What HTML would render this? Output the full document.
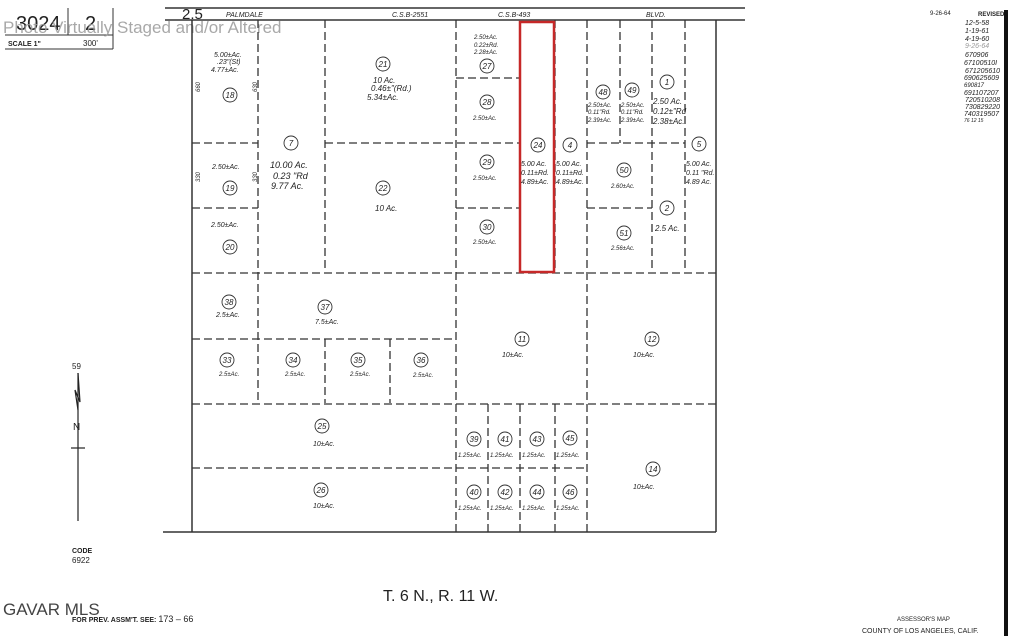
<!DOCTYPE html>
<html><head><meta charset="utf-8"><style>
html,body{margin:0;padding:0;background:#fff;}
svg{display:block;}
text{font-family:"Liberation Sans",sans-serif;fill:#222;}
.it{font-style:italic;font-size:7px;}
.s{font-size:6px;font-style:italic;}
.n{font-size:8px;font-style:italic;text-anchor:middle;}
.m{text-anchor:middle;}
</style></head><body>
<svg width="1024" height="636" viewBox="0 0 1024 636" xmlns="http://www.w3.org/2000/svg">
<rect width="1024" height="636" fill="#fff"/>
<g stroke="#333" stroke-width="1" fill="none">
<line x1="68" y1="8" x2="68" y2="35"/><line x1="113" y1="8" x2="113" y2="49"/>
<line x1="5" y1="35" x2="113" y2="35"/><line x1="5" y1="49" x2="113" y2="49"/>
</g>
<text x="16" y="30" font-size="20" fill="#222">3024</text>
<text x="85" y="30" font-size="20">2</text>
<text x="8" y="46" font-size="7" font-weight="bold">SCALE 1"</text>
<text x="83" y="46" font-size="8">300'</text>
<text x="3" y="33" font-size="17" style="fill:#9a9a9a" opacity="0.85">Photo Virtually Staged and/or Altered</text>
<g stroke="#333" stroke-width="1.5">
<line x1="165" y1="8" x2="745" y2="8"/>
<line x1="165" y1="20" x2="745" y2="20"/>
<line x1="192" y1="20" x2="192" y2="532"/>
<line x1="716" y1="20" x2="716" y2="532"/>
<line x1="163" y1="532" x2="716" y2="532"/>
</g>
<text x="182" y="19" font-size="15">2.5</text>
<text x="226" y="17" class="it" font-size="8">PALMDALE</text>
<text x="392" y="17" class="it" font-size="8">C.S.B-2551</text>
<text x="498" y="17" class="it" font-size="8">C.S.B-493</text>
<text x="646" y="17" class="it" font-size="8">BLVD.</text>
<g stroke="#333" stroke-width="1.3" stroke-dasharray="8,4" fill="none">
<line x1="258" y1="20" x2="258" y2="403"/>
<line x1="325" y1="20" x2="325" y2="272"/>
<line x1="456" y1="20" x2="456" y2="532"/>
<line x1="587" y1="20" x2="587" y2="532"/>
<line x1="620" y1="20" x2="620" y2="143"/>
<line x1="652" y1="20" x2="652" y2="272"/>
<line x1="685" y1="20" x2="685" y2="272"/>
<line x1="555" y1="20" x2="555" y2="272"/>
<line x1="192" y1="143" x2="258" y2="143"/>
<line x1="325" y1="143" x2="520" y2="143"/>
<line x1="587" y1="143" x2="685" y2="143"/>
<line x1="192" y1="208" x2="258" y2="208"/>
<line x1="456" y1="208" x2="520" y2="208"/>
<line x1="587" y1="208" x2="652" y2="208"/>
<line x1="456" y1="78" x2="520" y2="78"/>
<line x1="192" y1="273" x2="716" y2="273"/>
<line x1="192" y1="339" x2="456" y2="339"/>
<line x1="325" y1="339" x2="325" y2="403"/>
<line x1="390" y1="339" x2="390" y2="403"/>
<line x1="192" y1="404" x2="716" y2="404"/>
<line x1="192" y1="468" x2="587" y2="468"/>
<line x1="488" y1="404" x2="488" y2="532"/>
<line x1="520" y1="404" x2="520" y2="532"/>
<line x1="555" y1="404" x2="555" y2="532"/>
</g>
<rect x="520" y="22" width="34" height="250" fill="none" stroke="#c62828" stroke-width="2.5"/>
<g fill="none" stroke="#333" stroke-width="0.9">
<circle cx="230" cy="95" r="7"/><circle cx="291" cy="143" r="7"/><circle cx="230" cy="188" r="7"/>
<circle cx="230" cy="247" r="7"/><circle cx="383" cy="64" r="7"/><circle cx="383" cy="188" r="7"/>
<circle cx="487" cy="66" r="7"/><circle cx="487" cy="102" r="7"/><circle cx="487" cy="162" r="7"/>
<circle cx="487" cy="227" r="7"/><circle cx="538" cy="145" r="7"/><circle cx="570" cy="145" r="7"/>
<circle cx="603" cy="92" r="7"/><circle cx="632" cy="90" r="7"/><circle cx="667" cy="82" r="7"/>
<circle cx="699" cy="144" r="7"/><circle cx="624" cy="170" r="7"/><circle cx="667" cy="208" r="7"/>
<circle cx="624" cy="233" r="7"/><circle cx="229" cy="302" r="7"/><circle cx="325" cy="307" r="7"/>
<circle cx="227" cy="360" r="7"/><circle cx="293" cy="360" r="7"/><circle cx="358" cy="360" r="7"/>
<circle cx="421" cy="360" r="7"/><circle cx="522" cy="339" r="7"/><circle cx="652" cy="339" r="7"/>
<circle cx="322" cy="426" r="7"/><circle cx="321" cy="490" r="7"/><circle cx="653" cy="469" r="7"/>
<circle cx="474" cy="439" r="7"/><circle cx="505" cy="439" r="7"/><circle cx="537" cy="439" r="7"/><circle cx="570" cy="438" r="7"/>
<circle cx="474" cy="492" r="7"/><circle cx="505" cy="492" r="7"/><circle cx="537" cy="492" r="7"/><circle cx="570" cy="492" r="7"/>
</g>
<g class="n">
<text x="230" y="98" class="n">18</text><text x="291" y="146" class="n">7</text><text x="230" y="191" class="n">19</text>
<text x="230" y="250" class="n">20</text><text x="383" y="67" class="n">21</text><text x="383" y="191" class="n">22</text>
<text x="487" y="69" class="n">27</text><text x="487" y="105" class="n">28</text><text x="487" y="165" class="n">29</text>
<text x="487" y="230" class="n">30</text><text x="538" y="148" class="n">24</text><text x="570" y="148" class="n">4</text>
<text x="603" y="95" class="n">48</text><text x="632" y="93" class="n">49</text><text x="667" y="85" class="n">1</text>
<text x="699" y="147" class="n">5</text><text x="624" y="173" class="n">50</text><text x="667" y="211" class="n">2</text>
<text x="624" y="236" class="n">51</text><text x="229" y="305" class="n">38</text><text x="325" y="310" class="n">37</text>
<text x="227" y="363" class="n">33</text><text x="293" y="363" class="n">34</text><text x="358" y="363" class="n">35</text>
<text x="421" y="363" class="n">36</text><text x="522" y="342" class="n">11</text><text x="652" y="342" class="n">12</text>
<text x="322" y="429" class="n">25</text><text x="321" y="493" class="n">26</text><text x="653" y="472" class="n">14</text>
<text x="474" y="442" class="n">39</text><text x="505" y="442" class="n">41</text><text x="537" y="442" class="n">43</text><text x="570" y="441" class="n">45</text>
<text x="474" y="495" class="n">40</text><text x="505" y="495" class="n">42</text><text x="537" y="495" class="n">44</text><text x="570" y="495" class="n">46</text>
</g>
<g class="it">
<text x="214" y="57">5.00±Ac.</text><text x="217" y="64">.23"(St)</text><text x="211" y="72">4.77±Ac.</text>
<text x="270" y="168" font-size="9">10.00 Ac.</text><text x="273" y="179" font-size="9">0.23 "Rd</text><text x="271" y="189" font-size="9">9.77 Ac.</text>
<text x="212" y="169">2.50±Ac.</text><text x="211" y="227">2.50±Ac.</text>
<text x="373" y="83" font-size="8">10 Ac.</text><text x="371" y="91" font-size="8">0.46±"(Rd.)</text><text x="367" y="100" font-size="8">5.34±Ac.</text>
<text x="375" y="211" font-size="8">10 Ac.</text>
<text x="474" y="39" class="s">2.50±Ac.</text><text x="474" y="47" class="s">0.22±Rd.</text><text x="474" y="54" class="s">2.28±Ac.</text>
<text x="473" y="120" class="s">2.50±Ac.</text><text x="473" y="180" class="s">2.50±Ac.</text><text x="473" y="244" class="s">2.50±Ac.</text>
<text x="521" y="166">5.00 Ac.</text><text x="521" y="175">0.11±Rd.</text><text x="521" y="184">4.89±Ac.</text>
<text x="556" y="166">5.00 Ac.</text><text x="556" y="175">0.11±Rd.</text><text x="556" y="184">4.89±Ac.</text>
<text x="588" y="107" class="s">2.50±Ac.</text><text x="588" y="114" class="s">0.11"Rd.</text><text x="588" y="122" class="s">2.39±Ac.</text>
<text x="621" y="107" class="s">2.50±Ac.</text><text x="621" y="114" class="s">0.11"Rd.</text><text x="621" y="122" class="s">2.39±Ac.</text>
<text x="653" y="104" font-size="8">2.50 Ac.</text><text x="653" y="114" font-size="8">0.12±"Rd</text><text x="653" y="124" font-size="8">2.38±Ac.</text>
<text x="686" y="166">5.00 Ac.</text><text x="686" y="175">0.11 "Rd.</text><text x="686" y="184">4.89 Ac.</text>
<text x="611" y="188" class="s">2.60±Ac.</text><text x="655" y="231" font-size="8">2.5 Ac.</text><text x="611" y="250" class="s">2.56±Ac.</text>
<text x="216" y="317">2.5±Ac.</text><text x="315" y="324">7.5±Ac.</text>
<text x="219" y="376" class="s">2.5±Ac.</text><text x="285" y="376" class="s">2.5±Ac.</text><text x="350" y="376" class="s">2.5±Ac.</text><text x="413" y="377" class="s">2.5±Ac.</text>
<text x="502" y="357">10±Ac.</text><text x="633" y="357">10±Ac.</text>
<text x="313" y="446">10±Ac.</text><text x="313" y="508">10±Ac.</text><text x="633" y="489">10±Ac.</text>
<text x="458" y="457" class="s">1.25±Ac.</text><text x="490" y="457" class="s">1.25±Ac.</text><text x="522" y="457" class="s">1.25±Ac.</text><text x="556" y="457" class="s">1.25±Ac.</text>
<text x="458" y="510" class="s">1.25±Ac.</text><text x="490" y="510" class="s">1.25±Ac.</text><text x="522" y="510" class="s">1.25±Ac.</text><text x="556" y="510" class="s">1.25±Ac.</text>
</g>
<g class="s">
<text transform="translate(200,92) rotate(-90)" class="s">660</text>
<text transform="translate(257,92) rotate(-90)" class="s">630</text>
<text transform="translate(200,182) rotate(-90)" class="s">330</text>
<text transform="translate(257,182) rotate(-90)" class="s">330</text>
</g>
<text x="72" y="369" font-size="8">59</text>
<g stroke="#222" stroke-width="1.2" fill="none">
<line x1="78" y1="373" x2="78" y2="521"/>
<polyline points="78,373 80,402 75,390 78,410"/>
<line x1="71" y1="448" x2="85" y2="448"/>
</g>
<text x="73" y="430" font-size="10">N</text>
<text x="72" y="553" font-size="7" font-weight="bold">CODE</text>
<text x="72" y="563" font-size="8">6922</text>
<text x="383" y="601" font-size="16">T. 6 N., R. 11 W.</text>
<text x="3" y="615" font-size="17" style="fill:#444">GAVAR MLS</text>
<text x="72" y="622" font-size="7" font-weight="bold">FOR PREV. ASSM'T. SEE: <tspan font-size="9" font-weight="normal">173 – 66</tspan></text>
<text x="897" y="621" font-family="Liberation Mono" font-size="6">ASSESSOR'S MAP</text>
<text x="862" y="633" font-family="Liberation Mono" font-size="7">COUNTY OF LOS ANGELES, CALIF.</text>
<text x="930" y="15" font-size="6">9-26-64</text>
<text x="978" y="16" font-size="6" font-weight="bold">REVISED</text>
<g class="it" font-size="7">
<text x="965" y="25">12-5-58</text><text x="965" y="33">1-19-61</text><text x="965" y="41">4-19-60</text><text x="965" y="48" style="fill:#999">9-26-64</text>
<text x="965" y="57">670906</text><text x="964" y="65">67100510I</text><text x="965" y="73">671205610</text><text x="964" y="80">690625609</text>
<text x="964" y="87" class="s" font-size="5">690817</text><text x="964" y="95">691107207</text><text x="965" y="102">720510208</text><text x="965" y="109">730829220</text><text x="964" y="116">740319507</text><text x="964" y="122" font-size="5">76 12 15</text>
</g>
<rect x="1004" y="10" width="4" height="626" fill="#111"/>
</svg>
</body></html>
